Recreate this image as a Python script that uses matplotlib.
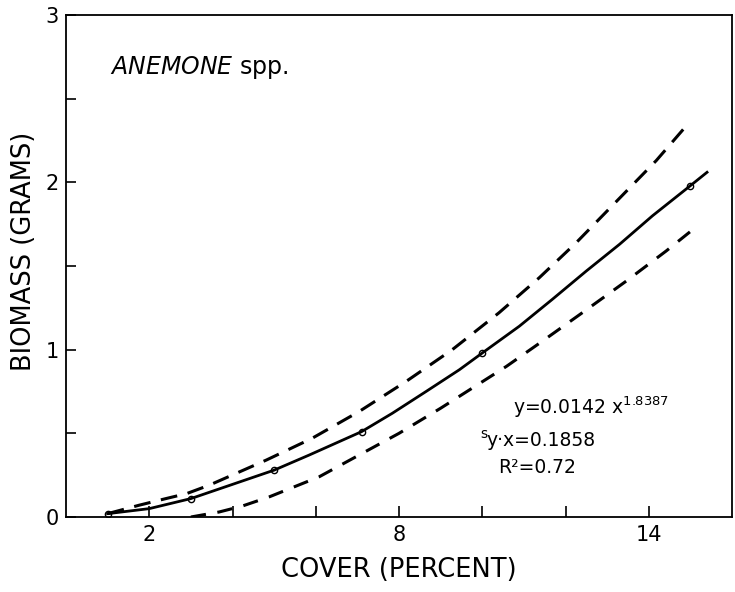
import matplotlib.pyplot as plt

# Fitted curve y = 0.0142 x^1.8387
fit_x = [1.0, 2.0, 3.0, 5.0, 5.84, 7.1, 7.84, 8.65, 9.45, 10.0, 10.89,
         11.68, 12.5, 13.3, 14.09, 15.0, 15.4]
fit_y = [0.02, 0.05, 0.11, 0.28, 0.37, 0.51, 0.62, 0.75, 0.88, 0.98, 1.14,
         1.30, 1.47, 1.63, 1.80, 1.98, 2.06]

# Circled points on the fitted curve
pts_x = [1.0, 3.0, 5.0, 7.1, 10.0, 15.0]
pts_y = [0.02, 0.11, 0.28, 0.51, 0.98, 1.98]

# Upper confidence band
upper_x = [1.0, 1.75, 2.4, 2.9, 3.44, 4.81, 5.91, 7.04, 8.17, 9.28, 10.4,
           11.37, 12.26, 13.2, 14.18, 14.98]
upper_y = [0.02, 0.07, 0.11, 0.14, 0.19, 0.34, 0.47, 0.63, 0.81, 1.00, 1.22,
           1.43, 1.64, 1.88, 2.13, 2.36]

# Lower confidence band
lower_x = [3.0, 3.68, 4.23, 4.88, 6.08, 7.04, 8.0, 9.0, 10.58, 11.44, 12.4,
           13.46, 14.42, 15.17]
lower_y = [0.0, 0.03, 0.065, 0.12, 0.24, 0.37, 0.50, 0.65, 0.90, 1.05, 1.22,
           1.41, 1.59, 1.74]

x_major = [2, 8, 14]
x_minor = [4, 6, 10, 12]
y_major = [0, 1, 2, 3]
y_minor = [0.5, 1.5, 2.5]

fig = plt.figure(figsize=(7.35, 5.92), dpi=100)
ax = fig.add_axes([66 / 735, 75 / 592, 666 / 735, 502 / 592])

ax.plot(fit_x, fit_y, color='black', lw=2.0)
ax.plot(pts_x, pts_y, 'o', ms=4.5, mfc='none', mec='black', mew=1.0)
ax.plot(upper_x, upper_y, color='black', lw=2.2, dashes=(5.5, 3.5))
ax.plot(lower_x, lower_y, color='black', lw=2.2, dashes=(5.0, 3.8))

ax.set_xlim(0, 16)
ax.set_ylim(0, 3)
ax.set_xticks(x_major)
ax.set_xticks(x_minor, minor=True)
ax.set_yticks(y_major)
ax.set_yticks(y_minor, minor=True)
ax.set_xticklabels([str(v) for v in x_major])
ax.set_yticklabels([str(v) for v in y_major])

ax.tick_params(which='both', direction='in', width=1.2, labelsize=15,
               color='black')
ax.tick_params(axis='x', which='both', length=8, pad=6)
ax.tick_params(axis='y', which='both', length=7, pad=5)
for s in ax.spines.values():
    s.set_linewidth(1.3)

ax.set_xlabel('COVER (PERCENT)', fontsize=18.5)
ax.set_ylabel('BIOMASS (GRAMS)', fontsize=18.5)
ax.xaxis.set_label_coords(0.5, -0.08)
ax.yaxis.set_label_coords(-0.044, 0.53)

ax.text(0.066, 0.896, r'$\mathit{ANEMONE}$ spp.', transform=ax.transAxes,
        fontsize=17, va='center', ha='left')

ax.text(0.671, 0.219, r'y=0.0142 x$^{1.8387}$', transform=ax.transAxes,
        fontsize=13.5, va='center', ha='left')
ax.text(0.622, 0.166, 's', transform=ax.transAxes,
        fontsize=10, va='center', ha='left')
ax.text(0.632, 0.153, 'y·x=0.1858', transform=ax.transAxes,
        fontsize=13.5, va='center', ha='left')
ax.text(0.649, 0.0996, 'R²=0.72', transform=ax.transAxes,
        fontsize=13.5, va='center', ha='left')

fig.savefig('out.png', dpi=100)
